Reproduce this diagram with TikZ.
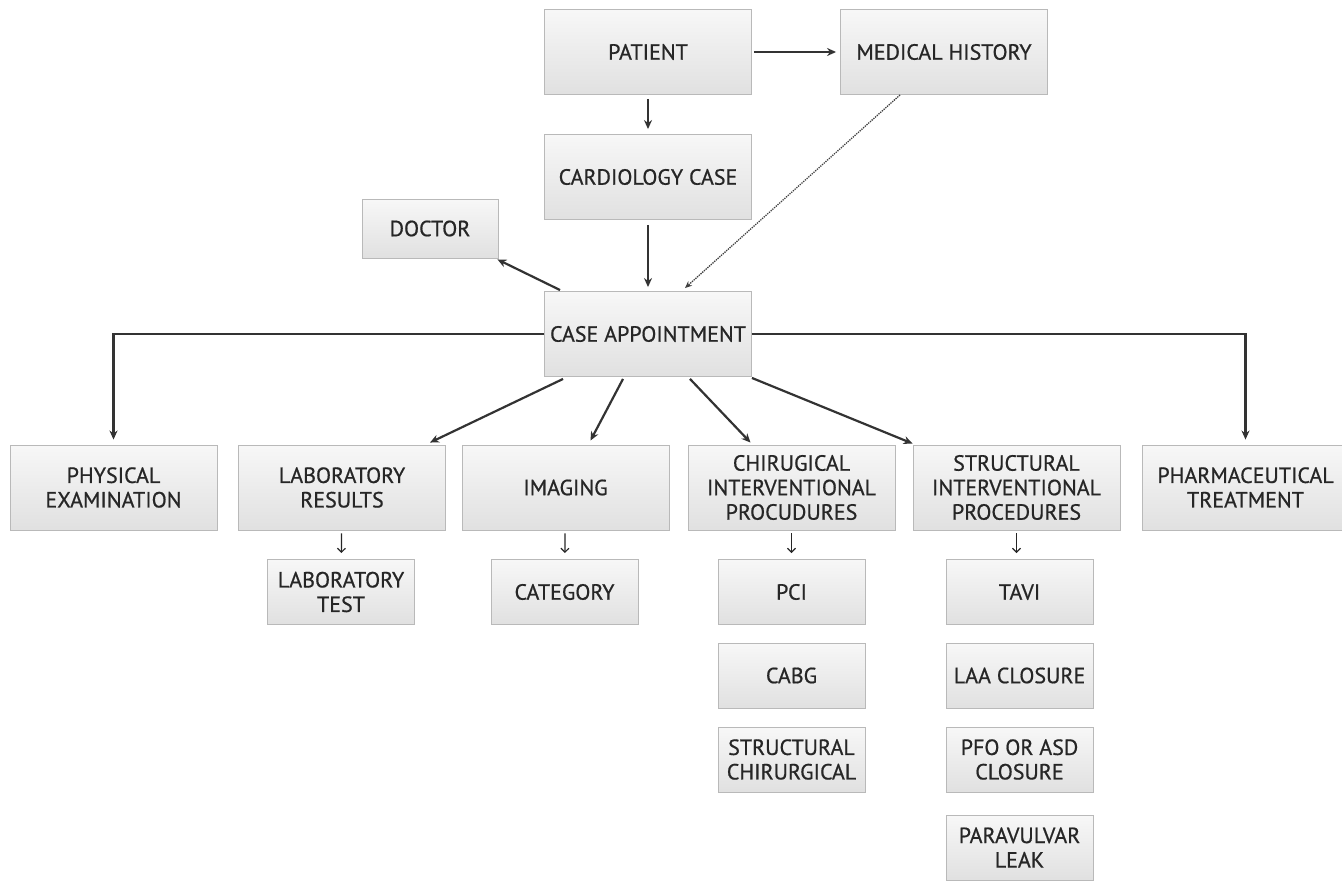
\documentclass[tikz,border=0pt]{standalone}
\usepackage{fontspec}
\setmainfont{PT Sans}[FakeBold=0.7]
\usetikzlibrary{arrows.meta,calc}
\begin{document}
\begin{tikzpicture}[x=1pt,y=-1pt,
  box/.style={draw=gray!55, line width=0.9pt, top color=white!97!black, bottom color=white!88!black,
    align=center, text=black!85, inner sep=0pt,
    font=\fontsize{22}{24.5}\selectfont},
  bigbox/.style={box, minimum width=207pt, minimum height=85pt},
  smallbox/.style={box, minimum width=147pt, minimum height=65pt},
  mainarrow/.style={-{Stealth[length=9pt,width=8pt]}, line width=2.2pt, draw=black!80},
  subarrow/.style={-{Straight Barb[length=4pt,width=8pt]}, line width=1.2pt, draw=black!85, shorten <=3pt, shorten >=6pt},
  dotarrow/.style={-{Stealth[length=7pt,width=6pt]}, line width=1.3pt, densely dotted, draw=black!75}
]
\useasboundingbox (0,0) rectangle (1342,883);

\node[bigbox] (pat) at (648,52) {PATIENT};
\node[bigbox] (mh) at (944,52) {MEDICAL HISTORY};
\node[bigbox] (cc) at (648,177) {CARDIOLOGY CASE};
\node[box, minimum width=136pt, minimum height=59pt] (doc) at (430,228.5) {DOCTOR};
\node[bigbox] (ca) at (648,334) {CASE APPOINTMENT};

\node[bigbox] (phys) at (113.5,487.5) {PHYSICAL\\EXAMINATION};
\node[bigbox] (lr) at (342,487.5) {LABORATORY\\RESULTS};
\node[bigbox] (img) at (565.5,487.5) {IMAGING};
\node[bigbox] (chir) at (791.5,487.5) {CHIRUGICAL\\INTERVENTIONAL\\PROCUDURES};
\node[bigbox] (sip) at (1016.5,487.5) {STRUCTURAL\\INTERVENTIONAL\\PROCEDURES};
\node[bigbox] (ph) at (1245.5,487.5) {PHARMACEUTICAL\\TREATMENT};

\node[smallbox] (lt) at (341,592) {LABORATORY\\TEST};
\node[smallbox] (cat) at (564.5,592) {CATEGORY};
\node[smallbox] (pci) at (791.5,592) {PCI};
\node[smallbox] (cabg) at (791.5,675.5) {CABG};
\node[smallbox] (sc) at (791.5,759.5) {STRUCTURAL\\CHIRURGICAL};
\node[smallbox] (tavi) at (1019.5,592) {TAVI};
\node[smallbox] (laa) at (1019.5,675.5) {LAA CLOSURE};
\node[smallbox] (pfo) at (1019.5,759.5) {PFO OR ASD\\CLOSURE};
\node[smallbox] (pvl) at (1019.5,847.5) {PARAVULVAR\\LEAK};

% main connectors
\draw[mainarrow, shorten <=2pt, shorten >=4pt] (pat) -- (mh);
\draw[mainarrow, shorten <=4pt, shorten >=5pt] (pat) -- (cc);
\draw[mainarrow, shorten <=5pt, shorten >=4pt] (cc) -- (ca);
\draw[dotarrow] ($(mh.south)+(-44,0)$) -- ($(ca.north)+(37,-3)$);
\draw[mainarrow] ($(ca.north west)+(16,-1)$) -- ($(doc.south east)+(-1,1)$);
\draw[mainarrow, shorten >=5pt] (ca.west) -| (phys.north);
\draw[mainarrow, shorten >=5pt] (ca.east) -| (ph.north);
\draw[mainarrow] ($(ca.south west)+(19,2)$) -- ($(lr.north)+(88,-2)$);
\draw[mainarrow] ($(ca.south)+(-25,2)$) -- ($(img.north)+(25,-4)$);
\draw[mainarrow] ($(ca.south)+(42,2)$) -- ($(chir.north)+(-41,-2)$);
\draw[mainarrow] ($(ca.south east)+(0,1)$) -- ($(sip.north west)+(0,-1)$);

% sub connectors
\draw[subarrow] (lr) -- (lt);
\draw[subarrow] (img) -- (cat);
\draw[subarrow] (chir) -- (pci);
\draw[subarrow] (sip.south) -- (sip.south |- tavi.north);
\end{tikzpicture}
\end{document}
